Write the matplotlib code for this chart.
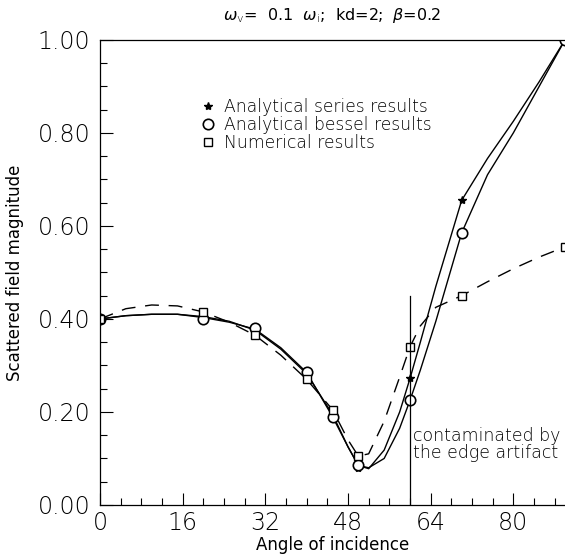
import numpy as np
import matplotlib.pyplot as plt
from matplotlib.ticker import MultipleLocator, FormatStrFormatter

plt.rcParams['font.family'] = ['DejaVu Sans']
plt.rcParams['font.weight'] = 'light'
plt.rcParams['mathtext.fontset'] = 'dejavusans'

# curve readings (angle in degrees)
curve_x = [0, 5, 10, 15, 20, 25, 30, 35, 40, 45, 48, 50, 52, 55, 58, 60, 62, 65, 70, 75, 80, 85, 90]
series_curve = [0.400, 0.407, 0.410, 0.410, 0.405, 0.395, 0.376, 0.335, 0.282, 0.195, 0.125, 0.085,
                0.078, 0.118, 0.200, 0.272, 0.350, 0.470, 0.655, 0.745, 0.825, 0.910, 1.000]
bessel_curve = [0.400, 0.407, 0.410, 0.410, 0.403, 0.393, 0.378, 0.338, 0.285, 0.190, 0.125, 0.085,
                0.080, 0.100, 0.165, 0.225, 0.290, 0.395, 0.585, 0.710, 0.800, 0.900, 1.000]
numer_curve = [0.400, 0.422, 0.430, 0.428, 0.415, 0.393, 0.365, 0.322, 0.270, 0.205, 0.140, 0.105,
               0.110, 0.180, 0.275, 0.340, 0.385, 0.425, 0.450, 0.480, 0.508, 0.533, 0.555]

# computed points
pts_x = [0, 20, 30, 40, 45, 50, 60, 70, 90]
series_pts = [0.40, 0.405, 0.375, 0.28, 0.19, 0.08, 0.272, 0.655, 1.0]
bessel_pts = [0.40, 0.40, 0.38, 0.285, 0.19, 0.085, 0.225, 0.585, 1.0]
numer_pts = [0.40, 0.415, 0.365, 0.27, 0.205, 0.105, 0.34, 0.45, 0.555]

edge_angle = 60

fig = plt.figure(figsize=(5.65, 5.57), dpi=100)
ax = fig.add_axes([0.177, 0.0934, 0.823, 0.835])

ax.plot(curve_x, series_curve, color='black', lw=1.0)
ax.plot(curve_x, bessel_curve, color='black', lw=1.0)
ax.plot(curve_x, numer_curve, color='black', lw=1.0, dashes=(10, 7))

ax.plot(pts_x, series_pts, ls='none', marker='*', ms=6, color='black',
        label='Analytical series results')
ax.plot(pts_x, bessel_pts, ls='none', marker='o', ms=7.5, mfc='white', mec='black', mew=1.2,
        label='Analytical bessel results')
ax.plot(pts_x, numer_pts, ls='none', marker='s', ms=6, mfc='white', mec='black', mew=1.0,
        label='Numerical results')

ax.plot([edge_angle, edge_angle], [0, 0.45], color='black', lw=0.9)
ax.text(edge_angle + 0.5, 0.13, 'contaminated by\nthe edge artifact', fontsize=12.5,
        va='center', ha='left', linespacing=0.9)

ax.legend(loc='upper left', bbox_to_anchor=(0.222, 0.876), frameon=False, fontsize=12.3,
          handlelength=0.6, handletextpad=0.6, labelspacing=0.0, borderpad=0, borderaxespad=0)

ax.set_xlim(0, 90)
ax.set_ylim(0, 1.0)
ax.xaxis.set_major_locator(MultipleLocator(16))
ax.xaxis.set_minor_locator(MultipleLocator(4))
ax.yaxis.set_major_locator(MultipleLocator(0.2))
ax.yaxis.set_minor_locator(MultipleLocator(0.05))
ax.yaxis.set_major_formatter(FormatStrFormatter('%.2f'))

ax.tick_params(which='both', direction='in', top=False, right=False, width=0.8, labelsize=17)
ax.tick_params(which='major', length=9)
ax.tick_params(which='minor', length=5)
ax.tick_params(axis='y', pad=7)
ax.tick_params(axis='x', pad=4)
ax.spines['right'].set_visible(False)
for s in ['left', 'bottom', 'top']:
    ax.spines[s].set_linewidth(0.9)

ax.set_xlabel('Angle of incidence', fontsize=12, labelpad=1)
ax.set_ylabel('Scattered field magnitude', fontsize=12, labelpad=10)
ax.set_title(r'$\omega_{\mathrm{v}}$=  0.1  $\omega_{\mathrm{i}}$;  kd=2;  $\beta$=0.2', fontsize=11.5, pad=14)

plt.savefig('out.png', dpi=100)
